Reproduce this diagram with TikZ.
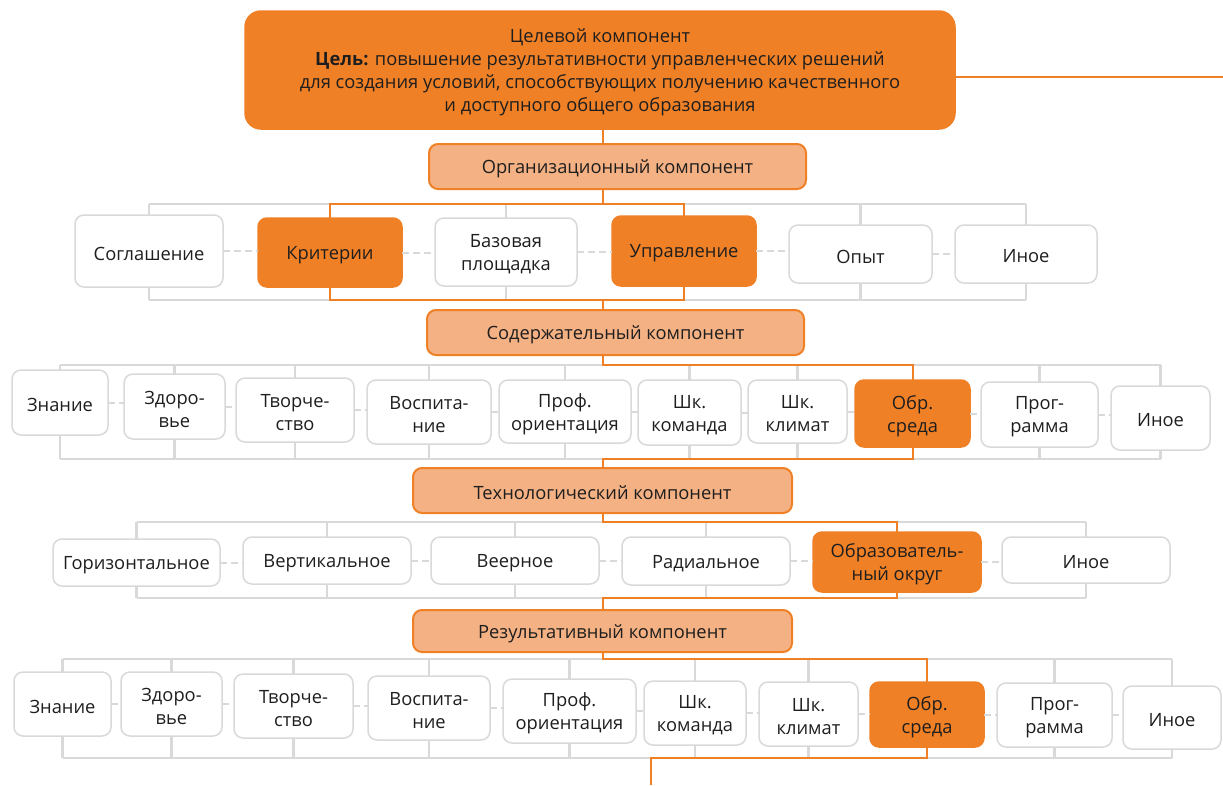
\documentclass[tikz,border=0pt]{standalone}
\usepackage{fontspec}
\setmainfont{Open Sans}
\definecolor{org}{HTML}{F08026}
\definecolor{lorg}{HTML}{F4B183}
\definecolor{gr}{HTML}{D9D9D9}
\definecolor{txt}{HTML}{1E1E1E}
\tikzset{
 base/.style={rounded corners=9pt, inner sep=0pt, outer sep=0pt},
 wbox/.style={base, draw=gr, line width=1.5pt, fill=white},
 obox/.style={base, draw=org, line width=1.5pt, fill=org},
 cbox/.style={base, draw=org, line width=2pt, fill=lorg},
 lbl/.style={inner sep=0pt, align=center, text=txt, font=\fontsize{18.3}{23}\selectfont},
 gline/.style={draw=gr, line width=2.5pt},
 oline/.style={draw=org, line width=2pt},
 dline/.style={draw=gr, line width=2pt, dash pattern=on 7pt off 4pt},
}
\newcommand\mybox[7]{\node[#1, minimum width={(#5-#3)*1pt}, minimum height={(#6-#4)*1pt}] (#2) at ({(#3+#5)/2},{(#4+#6)/2}) {};
\node[lbl] (#2-t) at ([yshift=-2.5pt]#2.center) {#7};}
\begin{document}
\begin{tikzpicture}[x=1pt,y=-1pt]
\useasboundingbox (0,0) rectangle (1223,785);
\coordinate (sp) at (603,0);
\coordinate (sq) at (651,0);
\coordinate (t1) at (0,204);
\coordinate (bb1) at (0,300);
\coordinate (t2) at (0,365);
\coordinate (bb2) at (0,459);
\coordinate (t3) at (0,522);
\coordinate (bb3) at (0,598);
\coordinate (t4) at (0,659);
\coordinate (bb4) at (0,758);
\coordinate (rend) at (1223,77);
\coordinate (bend) at (651,785);
% boxes
\mybox{obox, rounded corners=16pt}{goal}{245}{11}{955}{129}{\fontsize{18.3}{22}\selectfont Целевой компонент\\\textbf{Цель:} повышение результативности управленческих решений\\для создания условий, способствующих получению качественного\\и доступного общего образования}
\mybox{cbox}{orgc}{429}{144}{806}{189}{Организационный компонент}
\mybox{wbox}{s1}{75}{215}{223}{287}{Соглашение}
\mybox{obox}{k1}{258}{218}{402}{287}{Критерии}
\mybox{wbox}{b1}{435}{218}{577}{286}{\fontsize{18.3}{24}\selectfont Базовая\\площадка}
\mybox{obox}{u1}{612}{216}{756}{286}{Управление}
\mybox{wbox}{o1}{789}{225}{932}{283}{Опыт}
\mybox{wbox}{i1}{955}{225}{1097}{283}{Иное}
\mybox{cbox}{sod}{427}{310}{804}{355}{Содержательный компонент}
\mybox{wbox}{a2}{12}{370}{108}{435}{Знание}
\mybox{wbox}{b2}{124}{374}{225}{439}{Здоро-\\вье}
\mybox{wbox}{c2}{236}{378}{354}{442}{Творче-\\ство}
\mybox{wbox}{d2}{367}{380}{491}{444}{Воспита-\\ние}
\mybox{wbox}{e2}{499}{380}{631}{443}{Проф.\\ориентация}
\mybox{wbox}{f2}{638}{380}{741}{445}{Шк.\\команда}
\mybox{wbox}{g2}{748}{380}{847}{443}{Шк.\\климат}
\mybox{obox}{h2}{855}{380}{970}{447}{Обр.\\среда}
\mybox{wbox}{j2}{981}{382}{1098}{447}{Прог-\\рамма}
\mybox{wbox}{k2}{1111}{386}{1210}{450}{Иное}
\mybox{cbox}{tech}{413}{468}{792}{513}{Технологический компонент}
\mybox{wbox}{a3}{53}{539}{220}{586}{Горизонтальное}
\mybox{wbox}{b3}{243}{537}{411}{584}{Вертикальное}
\mybox{wbox}{c3}{431}{537}{599}{584}{Веерное}
\mybox{wbox}{d3}{622}{537}{790}{585}{Радиальное}
\mybox{obox}{e3}{813}{532}{981}{592}{Образователь-\\ный округ}
\mybox{wbox}{f3}{1002}{537}{1170}{583}{Иное}
\mybox{cbox}{res}{413}{610}{792}{652}{Результативный компонент}
\mybox{wbox}{a4}{14}{672}{111}{736}{Знание}
\mybox{wbox}{b4}{121}{672}{222}{736}{Здоро-\\вье}
\mybox{wbox}{c4}{234}{674}{353}{738}{Творче-\\ство}
\mybox{wbox}{d4}{368}{676}{490}{740}{Воспита-\\ние}
\mybox{wbox}{e4}{503}{679}{636}{743}{Проф.\\ориентация}
\mybox{wbox}{f4}{644}{681}{746}{745}{Шк.\\команда}
\mybox{wbox}{g4}{759}{682}{858}{746}{Шк.\\климат}
\mybox{obox}{h4}{870}{682}{984}{747}{Обр.\\среда}
\mybox{wbox}{j4}{997}{683}{1112}{747}{Прог-\\рамма}
\mybox{wbox}{k4}{1123}{686}{1221}{749}{Иное}
% gray brackets
\draw[gline] (s1.north |- t1) -- (i1.north |- t1);
\draw[gline] (s1.south |- bb1) -- (i1.south |- bb1);
\foreach \n in {s1,b1,o1,i1} {\draw[gline] (\n.north) -- (\n.north |- t1); \draw[gline] (\n.south) -- (\n.south |- bb1);}
\draw[gline] (a2.north |- t2) -- (k2.north |- t2);
\draw[gline] (a2.south |- bb2) -- (k2.south |- bb2);
\foreach \n in {a2,b2,c2,d2,e2,f2,g2,j2,k2} {\draw[gline] (\n.north) -- (\n.north |- t2); \draw[gline] (\n.south) -- (\n.south |- bb2);}
\draw[gline] (a3.north |- t3) -- (f3.north |- t3);
\draw[gline] (a3.south |- bb3) -- (f3.south |- bb3);
\foreach \n in {a3,b3,c3,d3,f3} {\draw[gline] (\n.north) -- (\n.north |- t3); \draw[gline] (\n.south) -- (\n.south |- bb3);}
\draw[gline] (a4.north |- t4) -- (k4.north |- t4);
\draw[gline] (a4.south |- bb4) -- (k4.south |- bb4);
\foreach \n in {a4,b4,c4,d4,e4,f4,g4,j4,k4} {\draw[gline] (\n.north) -- (\n.north |- t4); \draw[gline] (\n.south) -- (\n.south |- bb4);}
% dashed links
\foreach \a/\b in {s1/k1,k1/b1,b1/u1,u1/o1,o1/i1,a2/b2,b2/c2,c2/d2,d2/e2,e2/f2,f2/g2,g2/h2,h2/j2,j2/k2,a3/b3,b3/c3,c3/d3,d3/e3,e3/f3,a4/b4,b4/c4,c4/d4,d4/e4,e4/f4,f4/g4,g4/h4,h4/j4,j4/k4}
 {\draw[dline] (\a.east) -- (\a.east -| \b.west);}
% orange tree
\draw[oline] (goal.east |- rend) -- (rend);
\draw[oline] (goal.south -| sp) -- (orgc.north -| sp);
\draw[oline] (orgc.south -| sp) -- (sp |- t1);
\draw[oline] (k1.north) -- (k1.north |- t1) -- (u1.north |- t1) -- (u1.north);
\draw[oline] (k1.south) -- (k1.south |- bb1) -- (u1.south |- bb1) -- (u1.south);
\draw[oline] (sp |- bb1) -- (sod.north -| sp);
\draw[oline] (sod.south -| sp) -- (sp |- t2) -- (h2.north |- t2) -- (h2.north);
\draw[oline] (h2.south) -- (h2.south |- bb2) -- (sp |- bb2) -- (tech.north -| sp);
\draw[oline] (tech.south -| sp) -- (sp |- t3) -- (e3.north |- t3) -- (e3.north);
\draw[oline] (e3.south) -- (e3.south |- bb3) -- (sp |- bb3) -- (res.north -| sp);
\draw[oline] (res.south -| sp) -- (sp |- t4) -- (h4.north |- t4) -- (h4.north);
\draw[oline] (h4.south) -- (h4.south |- bb4) -- (sq |- bb4) -- (bend);
\end{tikzpicture}
\end{document}
